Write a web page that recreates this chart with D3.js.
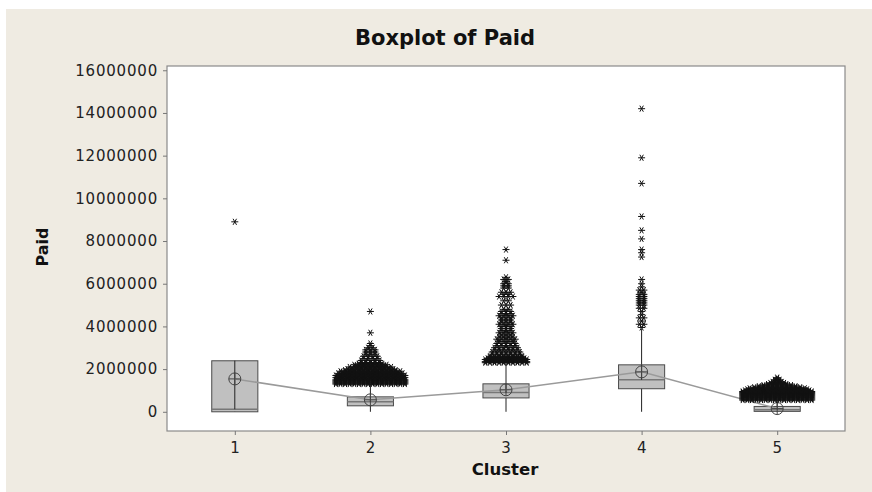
<!DOCTYPE html>
<html>
<head>
<meta charset="utf-8">
<script src="https://cdn.jsdelivr.net/npm/d3@7"></script>
<style>
  html, body { margin: 0; padding: 0; background: #fff; }
  svg { display: block; }
</style>
</head>
<body>
<div id="chart"></div>
<script>
// Boxplot of Paid, one box per cluster

const clusters = [1, 2, 3, 4, 5];
const yTicks = [0, 2000000, 4000000, 6000000, 8000000, 10000000, 12000000, 14000000, 16000000];

// box statistics (millions)
const q1 = [0.00, 0.28, 0.65, 1.08, 0.02];
const medians = [0.12, 0.47, 0.90, 1.50, 0.10];
const q3 = [2.39, 0.70, 1.31, 2.20, 0.25];
const whiskerLow = [0, 0, 0, 0, 0];
const whiskerHigh = [2.39, 1.30, 2.28, 3.88, 0.55];
const means = [1.54, 0.56, 1.03, 1.87, 0.15];

// outliers: [value in millions, number of outliers at that level]
const outliers1 = [[8.9, 1]];
const outliers2 = [
    [1.30, 16], [1.35, 16], [1.40, 16], [1.45, 16], [1.50, 16], [1.55, 15], [1.60, 16],
    [1.65, 15], [1.70, 16], [1.75, 14], [1.80, 15], [1.85, 13], [1.90, 14], [1.95, 12],
    [2.00, 11], [2.05, 9], [2.10, 10], [2.15, 7], [2.20, 8], [2.25, 6], [2.30, 5],
    [2.40, 5], [2.50, 4], [2.60, 4], [2.70, 3], [2.80, 3], [2.90, 3], [3.00, 2],
    [3.10, 1], [3.20, 1], [3.70, 1], [4.70, 1]
];
const outliers3 = [
    [2.30, 10], [2.35, 10], [2.40, 9], [2.45, 10], [2.50, 9], [2.55, 8], [2.60, 8],
    [2.70, 7], [2.80, 7], [2.90, 6], [3.00, 6], [3.10, 5], [3.20, 5], [3.30, 4],
    [3.40, 5], [3.50, 4], [3.60, 3], [3.70, 4], [3.80, 3], [3.90, 3], [4.00, 3],
    [4.10, 4], [4.20, 3], [4.30, 3], [4.40, 3], [4.50, 4], [4.60, 3], [4.70, 3],
    [4.80, 2], [5.00, 3], [5.20, 2], [5.40, 4], [5.50, 2], [5.60, 3], [5.80, 2],
    [5.90, 2], [6.00, 2], [6.10, 1], [6.20, 2], [6.30, 1], [7.10, 1], [7.60, 1]
];
const outliers4 = [
    [3.95, 1], [4.10, 2], [4.25, 1], [4.40, 2], [4.55, 1], [4.70, 1], [4.85, 2],
    [5.00, 2], [5.10, 2], [5.20, 2], [5.30, 2], [5.40, 2], [5.50, 2], [5.60, 1],
    [5.70, 2], [5.85, 1], [6.00, 1], [6.20, 1], [7.25, 1], [7.45, 1], [7.60, 1],
    [8.10, 1], [8.50, 1], [9.15, 1], [10.70, 1], [11.90, 1], [14.20, 1]
];
const outliers5 = [
    [0.55, 16], [0.60, 16], [0.65, 16], [0.70, 16], [0.75, 16], [0.80, 16], [0.85, 16],
    [0.90, 16], [0.95, 16], [1.00, 15], [1.05, 14], [1.10, 13], [1.15, 11], [1.20, 9],
    [1.25, 7], [1.30, 5], [1.35, 4], [1.40, 3], [1.45, 2], [1.50, 2], [1.55, 1], [1.60, 1]
];
const outlierLists = [outliers1, outliers2, outliers3, outliers4, outliers5];

document.addEventListener("DOMContentLoaded", function () {
    const width = 872;
    const height = 492;
    const margin = { top: 66, right: 27, bottom: 61, left: 167 };
    const M = 1000000;

    const svg = d3.select("#chart")
        .append("svg")
        .attr("width", width)
        .attr("height", height);

    // beige page
    svg.append("rect")
        .attr("x", 6).attr("y", 9)
        .attr("width", width - 6).attr("height", height - 9)
        .attr("fill", "#efebe2");

    const x = d3.scaleLinear()
        .domain([0.5, 5.5])
        .range([margin.left, width - margin.right]);

    const y = d3.scaleLinear()
        .domain([-0.9 * M, 16.2 * M])
        .range([height - margin.bottom, margin.top]);

    // plot area
    svg.append("rect")
        .attr("x", margin.left)
        .attr("y", margin.top)
        .attr("width", width - margin.left - margin.right)
        .attr("height", height - margin.top - margin.bottom)
        .attr("fill", "#fff")
        .attr("stroke", "#8a8a8a")
        .attr("stroke-width", 1.2);

    // axes
    const yAxis = svg.append("g")
        .attr("transform", `translate(${margin.left},0)`)
        .call(d3.axisLeft(y).tickValues(yTicks).tickSize(4).tickPadding(5).tickFormat(d3.format("d")));

    const xAxis = svg.append("g")
        .attr("transform", `translate(0,${height - margin.bottom})`)
        .call(d3.axisBottom(x).tickValues(clusters).tickSize(4).tickPadding(7).tickFormat(d3.format("d")));

    [yAxis, xAxis].forEach(g => {
        g.select(".domain").remove();
        g.selectAll(".tick line").attr("stroke", "#777");
        g.selectAll(".tick text")
            .attr("fill", "#222")
            .attr("font-family", "DejaVu Sans, Verdana, sans-serif")
            .attr("font-size", "15px")
            .attr("letter-spacing", "0.8px");
    });

    const boxW = 0.34;
    const stats = clusters.map((c, i) => ({
        c: c, q1: q1[i] * M, med: medians[i] * M, q3: q3[i] * M,
        lo: whiskerLow[i] * M, hi: whiskerHigh[i] * M, mean: means[i] * M
    }));

    const boxes = svg.append("g");

    // whiskers
    boxes.selectAll("line.whisker")
        .data(stats)
        .join("line")
        .attr("class", "whisker")
        .attr("x1", d => x(d.c)).attr("x2", d => x(d.c))
        .attr("y1", d => y(d.lo)).attr("y2", d => y(d.hi))
        .attr("stroke", "#222")
        .attr("stroke-width", 1);

    // boxes
    boxes.selectAll("rect")
        .data(stats)
        .join("rect")
        .attr("x", d => x(d.c - boxW / 2))
        .attr("width", d => x(d.c + boxW / 2) - x(d.c - boxW / 2))
        .attr("y", d => y(d.q3))
        .attr("height", d => y(d.q1) - y(d.q3))
        .attr("fill", "#c0c0c0")
        .attr("stroke", "#4a4a4a")
        .attr("stroke-width", 1);

    // medians
    boxes.selectAll("line.median")
        .data(stats)
        .join("line")
        .attr("class", "median")
        .attr("x1", d => x(d.c - boxW / 2)).attr("x2", d => x(d.c + boxW / 2))
        .attr("y1", d => y(d.med)).attr("y2", d => y(d.med))
        .attr("stroke", "#777")
        .attr("stroke-width", 1.5);

    // line from median to Q3 at the centre of the box
    boxes.selectAll("line.inner")
        .data(stats)
        .join("line")
        .attr("class", "inner")
        .attr("x1", d => x(d.c)).attr("x2", d => x(d.c))
        .attr("y1", d => y(d.med)).attr("y2", d => y(d.q3))
        .attr("stroke", "#222")
        .attr("stroke-width", 1);

    // mean connect line
    svg.append("path")
        .datum(stats)
        .attr("fill", "none")
        .attr("stroke", "#9a9a9a")
        .attr("stroke-width", 1.5)
        .attr("d", d3.line().x(d => x(d.c)).y(d => y(d.mean)));

    // mean symbols (circle with cross)
    const meanG = svg.append("g")
        .selectAll("g")
        .data(stats)
        .join("g")
        .attr("transform", d => `translate(${x(d.c)},${y(d.mean)})`)
        .attr("stroke", "#444")
        .attr("stroke-width", 1)
        .attr("fill", "none");
    meanG.append("circle").attr("r", 6);
    meanG.append("line").attr("x1", -6).attr("x2", 6);
    meanG.append("line").attr("y1", -6).attr("y2", 6);

    // outliers, tied levels spread side by side
    const step = 4.6;
    const star = d3.symbol(d3.symbolAsterisk, 34)();
    const points = [];
    outlierLists.forEach((list, i) => {
        list.forEach(([v, n]) => {
            for (let k = 0; k < n; k++) {
                points.push({ c: clusters[i], v: v * M, off: (k - (n - 1) / 2) * step });
            }
        });
    });

    svg.append("g")
        .selectAll("path")
        .data(points)
        .join("path")
        .attr("d", star)
        .attr("transform", d => `translate(${x(d.c) + d.off},${y(d.v)}) rotate(90)`)
        .attr("fill", "none")
        .attr("stroke", "#111")
        .attr("stroke-width", 1);

    // titles
    svg.append("text")
        .attr("x", 445)
        .attr("y", 45)
        .attr("text-anchor", "middle")
        .attr("font-family", "DejaVu Sans, Verdana, sans-serif")
        .attr("font-weight", "bold")
        .attr("font-size", "21px")
        .attr("fill", "#111")
        .text("Boxplot of Paid");

    svg.append("text")
        .attr("x", 505)
        .attr("y", 475)
        .attr("text-anchor", "middle")
        .attr("font-family", "DejaVu Sans, Verdana, sans-serif")
        .attr("font-weight", "bold")
        .attr("font-size", "16.5px")
        .attr("fill", "#111")
        .text("Cluster");

    svg.append("text")
        .attr("transform", "translate(48,247) rotate(-90)")
        .attr("text-anchor", "middle")
        .attr("font-family", "DejaVu Sans, Verdana, sans-serif")
        .attr("font-weight", "bold")
        .attr("font-size", "16px")
        .attr("fill", "#111")
        .text("Paid");
});
</script>
</body>
</html>
